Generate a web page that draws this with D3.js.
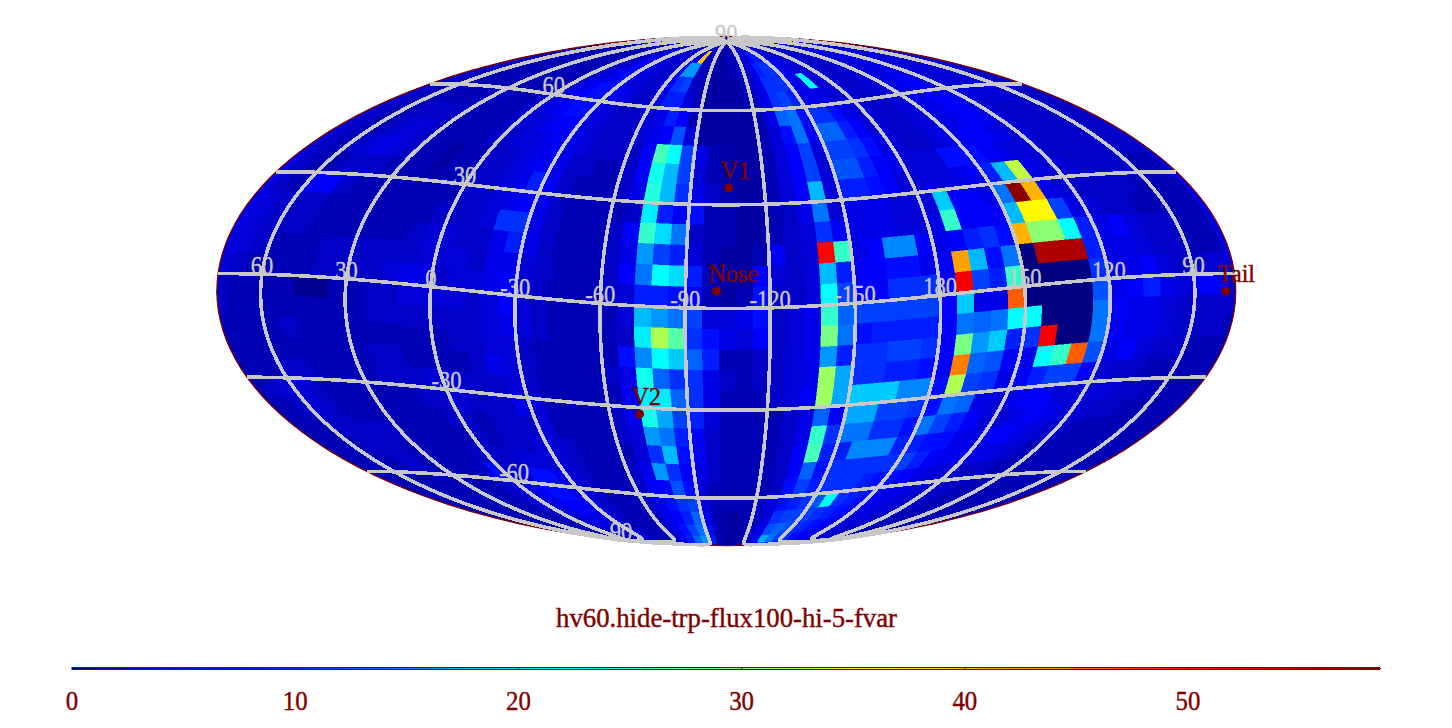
<!DOCTYPE html>
<html><head><meta charset="utf-8">
<script src="https://cdn.jsdelivr.net/npm/d3@7"></script>
<style>html,body{margin:0;padding:0;background:#fff}svg{display:block}text{font-family:"Liberation Serif",serif}</style>
</head><body><svg id="c" width="1452" height="728"></svg>
<script>
// flux per 6x6 degree ecliptic cell; rows from lat 90 down to -90, columns from lon 78 descending
const fluxRows = [
[4,4,4,4,4,3,3,3,4,4,4,3,3,3,4,4,5,5,5,5,5,4,4,4,5,5,4,3,3,3,3,3,4,4,5,5,5,5,5,5,5,5,4,4,4,4,4,5,5,5,5,5,5,5,5,5,5,5,5,5],
[4,4,3,3,3,3,3,3,3,3,3,3,3,4,4,5,6,6,5,5,5,4,4,5,7,40,4,3,2,2,3,3,3,4,5,7,9,8,6,5,5,4,4,4,4,4,4,5,5,5,6,6,5,5,5,5,5,5,4,4],
[5,4,3,3,3,3,3,3,3,3,3,3,3,4,4,5,7,7,6,5,5,4,4,6,16,16,4,3,2,2,2,3,4,4,6,9,10,10,7,6,5,5,4,4,4,4,4,5,5,5,6,6,6,5,5,5,5,5,5,5],
[5,4,3,3,3,3,3,3,3,3,3,3,3,4,5,6,7,8,6,5,5,4,5,7,10,11,4,3,2,2,2,2,3,4,6,10,10,10,7,6,22,5,5,5,4,4,5,5,5,5,6,6,6,5,5,5,5,5,5,5],
[5,4,3,3,3,3,3,3,3,3,3,3,3,5,6,7,8,8,7,6,5,4,4,6,9,9,5,3,2,2,2,2,3,4,6,10,11,9,6,6,6,5,5,5,4,4,5,5,6,6,7,7,6,5,5,5,5,5,5,4],
[5,4,3,3,3,3,3,4,4,3,3,3,4,5,6,7,8,8,6,5,4,4,4,5,6,9,7,3,2,2,2,2,2,3,6,13,14,8,10,10,8,6,5,5,4,4,5,5,6,6,7,7,6,5,5,5,5,4,4,4],
[5,4,3,3,4,4,4,4,3,3,3,3,4,5,5,6,7,7,6,5,4,4,4,5,6,7,12,5,2,2,2,2,2,3,5,8,14,7,13,13,9,7,5,5,4,4,5,5,6,6,7,7,6,5,4,4,4,4,4,4],
[5,4,3,3,4,5,5,4,3,3,3,3,4,4,5,5,6,7,6,5,4,4,4,4,7,26,22,11,6,3,2,2,2,3,5,7,11,5,11,11,10,8,6,5,4,4,5,6,6,7,7,6,5,5,4,4,4,4,4,4],
[5,4,3,4,5,6,5,4,3,3,2,3,3,4,4,5,6,7,6,4,4,3,3,4,7,23,18,11,5,3,2,2,2,3,5,7,11,5,12,12,9,7,6,5,5,5,8,8,8,7,6,5,5,4,4,4,4,4,4,4],
[6,4,3,3,4,4,4,3,3,3,2,3,3,4,4,5,6,9,7,4,3,3,3,4,6,24,18,10,6,4,3,2,2,3,5,7,18,5,9,9,8,7,5,5,5,5,6,7,9,18,33,6,5,5,4,4,4,4,3,3],
[6,4,3,7,7,4,3,3,3,3,3,3,3,4,4,5,6,7,6,4,3,3,3,3,4,21,9,7,8,3,3,2,2,3,4,6,14,5,6,6,6,5,5,5,19,7,7,6,14,58,41,6,5,4,4,4,4,3,3,3],
[6,5,4,4,4,3,3,3,3,3,3,3,4,4,4,5,10,10,6,4,3,3,3,4,7,25,20,14,4,3,3,2,2,3,4,5,10,7,6,6,6,5,5,6,25,7,7,7,18,37,37,11,6,5,4,4,3,3,3,3],
[6,5,4,4,4,3,3,3,3,3,3,4,5,5,4,4,6,9,6,4,3,3,3,4,6,16,11,9,5,3,2,2,3,7,4,5,51,25,6,7,15,15,7,6,7,9,10,8,41,30,30,22,9,6,7,5,4,4,3,3],
[5,5,4,3,3,3,4,4,4,4,4,4,5,5,5,4,6,6,5,4,3,3,3,4,7,14,22,20,9,3,2,2,7,5,4,5,18,9,7,7,8,8,6,7,42,18,8,14,0,56,56,56,9,6,6,5,4,4,3,3],
[5,4,3,3,3,3,4,4,4,4,5,6,6,4,5,5,6,7,5,4,3,3,3,4,5,9,9,8,7,3,2,3,8,4,4,5,22,11,7,7,10,10,10,7,52,11,9,25,0,0,0,0,10,6,6,7,5,4,4,5],
[4,3,3,3,3,1,1,3,3,4,4,5,5,5,5,4,5,7,5,4,3,3,3,3,5,18,16,14,11,5,5,6,8,4,5,6,25,13,11,11,11,11,11,7,19,6,6,46,0,0,0,0,12,6,7,9,6,5,7,7],
[4,3,3,3,3,3,3,3,3,4,4,4,4,4,4,4,5,6,5,4,3,3,3,3,4,21,32,27,10,8,6,5,7,4,5,6,29,14,8,9,9,9,9,7,14,13,14,22,22,0,0,0,14,7,6,6,5,4,4,4],
[3,3,3,3,4,3,3,3,3,3,3,3,3,3,4,4,5,5,4,3,3,3,3,3,8,15,22,19,13,9,3,3,4,4,5,6,16,9,10,10,11,11,10,7,29,16,19,9,10,52,0,0,14,7,6,6,5,4,4,4],
[3,3,3,3,3,3,3,3,3,4,4,3,3,3,3,4,6,5,4,3,3,3,3,4,6,23,13,10,10,6,4,3,4,4,5,6,31,17,10,10,9,9,8,7,44,13,12,7,6,22,25,46,12,6,7,5,4,4,3,3],
[3,3,3,4,4,3,3,3,3,4,4,4,5,5,4,4,4,5,4,3,3,3,3,3,7,21,21,13,10,6,3,3,3,4,5,7,31,17,19,19,19,15,15,8,32,11,10,6,7,9,11,11,7,5,4,4,3,3,3,3],
[3,4,5,5,4,3,3,3,3,3,3,4,4,5,4,4,4,6,5,3,3,3,3,4,6,23,17,11,9,5,3,3,3,3,4,6,13,7,17,17,11,11,10,8,14,13,6,5,6,7,7,5,5,5,5,4,4,3,3,3],
[3,3,4,5,4,3,3,3,3,3,3,3,4,4,3,4,4,4,5,3,3,3,3,4,5,16,14,9,7,4,3,3,3,3,4,6,25,10,14,14,10,10,8,14,11,9,7,5,5,6,7,6,5,5,4,4,3,3,3,3],
[3,3,3,4,4,4,4,4,3,3,3,3,3,4,3,4,4,5,5,4,3,3,3,3,5,10,18,8,7,4,3,3,3,3,4,7,26,9,9,15,15,15,9,9,8,8,6,6,7,7,6,5,4,4,3,3,3,3,3,3],
[3,3,3,3,4,4,4,3,3,3,3,3,4,4,4,5,5,5,5,4,3,3,3,4,6,16,10,7,6,4,3,3,3,3,4,7,13,8,10,10,10,10,10,11,9,7,6,6,6,6,5,4,3,3,3,3,3,3,3,3],
[3,3,3,3,3,4,4,3,3,3,3,4,8,5,5,8,8,6,5,4,3,3,3,4,7,7,12,8,5,3,3,3,3,3,4,8,11,9,10,10,10,9,8,8,7,6,5,5,4,4,4,3,3,3,3,3,3,3,3,3],
[3,3,3,3,3,3,3,3,3,3,3,4,5,5,7,8,8,6,5,4,3,3,3,4,6,8,10,11,5,3,3,3,3,4,5,8,9,10,12,22,10,9,8,7,6,6,5,4,4,4,4,3,3,3,3,3,3,3,3,3],
[3,3,3,3,3,3,3,3,3,3,3,4,5,5,6,7,7,6,5,4,3,3,3,4,6,7,9,13,6,3,2,2,3,4,5,10,11,11,11,10,9,8,7,6,6,5,5,4,4,4,3,3,3,3,3,3,3,3,3,3],
[3,3,3,3,3,3,3,3,3,3,3,3,4,5,5,6,6,6,5,4,3,3,3,4,6,8,11,14,8,3,2,2,3,4,6,12,13,12,10,9,8,7,6,6,5,5,4,4,4,3,3,3,3,3,3,3,3,3,3,3],
[3,3,3,3,3,3,3,3,3,3,3,3,4,4,5,5,5,5,5,4,3,3,3,4,6,9,13,16,9,3,2,2,3,4,7,17,14,11,10,8,7,6,6,5,5,4,4,4,3,3,3,3,3,3,3,3,3,3,3,3],
[3,3,3,3,3,3,3,3,3,3,3,3,3,4,4,4,4,4,4,4,3,3,3,3,5,7,9,9,7,3,2,2,3,3,5,9,9,8,7,6,6,5,5,5,4,4,4,3,3,3,3,3,3,3,3,3,3,3,3,3]
];
const gridLons = [-180,-150,-120,-90,-60,-30,0,30,60,90,120,150];
const gridLats = [-60,-30,0,30,60];
const lonLabels = ["180","150","120","90","60","30","0","-30","-60","-90","-120","-150"];
const lonLabelValues = [180,150,120,90,60,30,0,-30,-60,-90,-120,-150];
const latLabelValues = [90,60,30,-30,-60,-90];
const latLabels = ["90","60","30","-30","-60","90"];
const markerNames = ["V1","Nose","V2","Tail"];
const markerLons = [254.5,259,288.6,79];
const markerLats = [35,5,-32,-5];
const colorStops = [0,7.3,22,36.6,51.3,58.6];
const colorValues = ["#000080","#0000ff","#00ffff","#ffff00","#ff0000","#800000"];
const barTicks = [0,10,20,30,40,50];
const barMax = 58.6;
const title = "hv60.hide-trp-flux100-hi-5-fvar";
const DARK = "#800000", GREY = "#c8c8c8";

function mollweideRaw(l,p){
  let t; const c=Math.PI*Math.sin(p);
  if(Math.abs(Math.abs(p)-Math.PI/2)<1e-9){t=Math.sign(p)*Math.PI/2;}
  else{let a=p; for(let i=0;i<40;i++){const d=(a+Math.sin(a)-c)/(1+Math.cos(a)); a-=d; if(Math.abs(d)<1e-9)break;} t=a/2;}
  return [2*Math.SQRT2/Math.PI*l*Math.cos(t), Math.SQRT2*Math.sin(t)];
}
const projection = d3.geoProjection(mollweideRaw).scale(180.1).translate([726.3,291]).rotate([-255.5,-5]).reflectX(true).precision(0.3);
const path = d3.geoPath(projection);
const color = d3.scaleLinear().domain(colorStops).range(colorValues).clamp(true);
const svg = d3.select("#c");

svg.append("path").datum({type:"Sphere"}).attr("d",path).attr("fill","#0000c0");

const cells=[];
fluxRows.forEach((row,r)=>row.forEach((v,j)=>{cells.push({v,r,j});}));
function ring(c){
  const e=78-6*c.j, w=e-6, n=Math.min(90-6*c.r,89.99), s=Math.max(n-6,-89.99);
  const cw=[];
  for(let k=0;k<=3;k++)cw.push([w+2*k,n]);
  for(let k=0;k<=3;k++)cw.push([e-2*k,s]);
  cw.push(cw[0]);
  return cw;
}
svg.append("g").selectAll("path").data(cells).join("path")
  .attr("d",c=>path({type:"Polygon",coordinates:[ring(c)]}))
  .attr("fill",c=>color(c.v)).attr("stroke",c=>color(c.v)).attr("stroke-width",0.5).attr("shape-rendering","crispEdges");

svg.append("path").datum({type:"Sphere"}).attr("d",path).attr("fill","none").attr("stroke",DARK).attr("stroke-width",1.3);

const lines=[];
gridLons.forEach(l=>lines.push(d3.range(-90,90.01,2).map(p=>[l,p])));
gridLats.forEach(p=>lines.push(d3.range(-180,180.01,2).map(l=>[l,p])));
svg.append("path").datum({type:"MultiLineString",coordinates:lines}).attr("d",path)
  .attr("fill","none").attr("stroke",GREY).attr("stroke-width",3.6).attr("shape-rendering","crispEdges");

function squeeze(sel,f){sel.each(function(){this.setAttribute("textLength",this.getComputedTextLength()*f);this.setAttribute("lengthAdjust","spacingAndGlyphs");});}
function heavy(sel,c){sel.attr("stroke",c).attr("stroke-width",0.4);}
const lonT = svg.append("g").selectAll("text").data(lonLabelValues).join("text")
  .attr("x",(d)=>projection([d,0])[0]).attr("y",d=>projection([d,0])[1])
  .attr("text-anchor","middle").attr("font-size",25).attr("fill",GREY).text((d,i)=>lonLabels[i]);
squeeze(lonT,.9); heavy(lonT,GREY);
const latT = svg.append("g").selectAll("text").data(latLabelValues).join("text")
  .attr("x",d=>projection([0,d])[0]).attr("y",d=>projection([0,d])[1])
  .attr("text-anchor","middle").attr("font-size",25).attr("fill",GREY).text((d,i)=>latLabels[i]);
squeeze(latT,.9); heavy(latT,GREY);

const mk = svg.append("g").selectAll("g").data(markerNames).join("g")
  .attr("transform",(d,i)=>`translate(${projection([markerLons[i],markerLats[i]])})`);
mk.append("circle").attr("r",4.5).attr("fill",DARK);
const mkT = mk.append("text").attr("x",-8).attr("y",-9).attr("font-size",26).attr("fill",DARK).text(d=>d);
squeeze(mkT,.93); heavy(mkT,DARK);

const titleT = svg.append("text").attr("x",726.5).attr("y",627).attr("text-anchor","middle").attr("font-size",28).attr("fill",DARK)
  .attr("textLength",341).attr("lengthAdjust","spacingAndGlyphs").text(title);
heavy(titleT,DARK);

const bar = d3.scaleLinear().domain([0,barMax]).range([72,1380]);
const steps = d3.range(0,barMax,barMax/327);
svg.append("rect").attr("x",bar(0)).attr("y",667).attr("width",bar(barMax)-bar(0)).attr("height",3).attr("fill",DARK);
svg.append("g").selectAll("rect").data(steps).join("rect")
  .attr("x",d=>bar(d)).attr("y",668).attr("width",bar(barMax/327)-bar(0)+.5).attr("height",1).attr("fill",d=>color(d)).attr("shape-rendering","crispEdges");
svg.append("g").selectAll("line").data(barTicks).join("line")
  .attr("x1",d=>bar(d)).attr("x2",d=>bar(d)).attr("y1",667).attr("y2",670).attr("stroke",DARK);
const barT = svg.append("g").selectAll("text").data(barTicks).join("text")
  .attr("x",d=>bar(d)).attr("y",710).attr("text-anchor","middle").attr("font-size",27).attr("fill",DARK).text(d=>d);
squeeze(barT,.92); heavy(barT,DARK);
</script></body></html>
